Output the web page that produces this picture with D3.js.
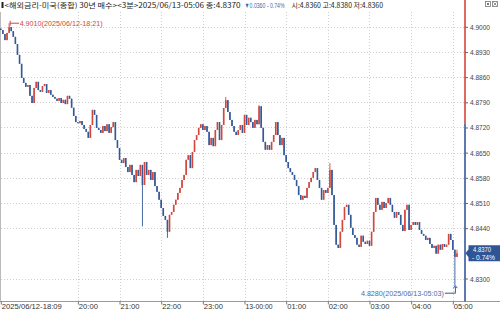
<!DOCTYPE html>
<html>
<head>
<meta charset="utf-8">
<script src="https://cdn.jsdelivr.net/npm/d3@7"></script>
<style>
  body { margin: 0; background: #fff; }
  svg { display: block; font-family: "Liberation Sans", "Noto Sans CJK KR", sans-serif; }
</style>
</head>
<body>
<div id="chart"></div>
<script>
// 3-minute candles, 2025/06/12 18:09 .. 2025/06/13 05:06 (close of each bar)
const closes = [
  4.8991, 4.8980, 4.8963, 4.8983, 4.8999, 4.8988, 4.8972, 4.8952, 4.8922, 4.8897,
  4.8858, 4.8844, 4.8833, 4.8838, 4.8808, 4.8788, 4.8830, 4.8847, 4.8824, 4.8819,
  4.8835, 4.8841, 4.8816, 4.8824, 4.8811, 4.8805, 4.8800, 4.8794, 4.8802, 4.8788,
  4.8797, 4.8785, 4.8808, 4.8800, 4.8775, 4.8752, 4.8735, 4.8732, 4.8738, 4.8727,
  4.8716, 4.8708, 4.8691, 4.8727, 4.8769, 4.8755, 4.8719, 4.8713, 4.8705, 4.8724,
  4.8710, 4.8729, 4.8705, 4.8721, 4.8735, 4.8685, 4.8663, 4.8630, 4.8621, 4.8635,
  4.8610, 4.8596, 4.8616, 4.8588, 4.8568, 4.8602, 4.8585, 4.8616, 4.8560, 4.8624,
  4.8588, 4.8602, 4.8574, 4.8596, 4.8557, 4.8541, 4.8519, 4.8496, 4.8474, 4.8463,
  4.8430, 4.8477, 4.8485, 4.8505, 4.8519, 4.8538, 4.8552, 4.8574, 4.8588, 4.8630,
  4.8643, 4.8607, 4.8652, 4.8685, 4.8699, 4.8719, 4.8729, 4.8713, 4.8724, 4.8708,
  4.8671, 4.8691, 4.8668, 4.8713, 4.8735, 4.8685, 4.8727, 4.8774, 4.8796, 4.8763,
  4.8741, 4.8724, 4.8708, 4.8699, 4.8713, 4.8727, 4.8705, 4.8755, 4.8727, 4.8747,
  4.8735, 4.8719, 4.8741, 4.8729, 4.8779, 4.8719, 4.8680, 4.8658, 4.8671, 4.8658,
  4.8680, 4.8699, 4.8735, 4.8699, 4.8671, 4.8691, 4.8643, 4.8624, 4.8607, 4.8596,
  4.8588, 4.8574, 4.8557, 4.8532, 4.8519, 4.8530, 4.8524, 4.8552, 4.8568, 4.8580,
  4.8596, 4.8607, 4.8574, 4.8552, 4.8519, 4.8546, 4.8538, 4.8552, 4.8602, 4.8532,
  4.8449, 4.8394, 4.8385, 4.8430, 4.8463, 4.8499, 4.8505, 4.8477, 4.8441, 4.8421,
  4.8413, 4.8394, 4.8388, 4.8419, 4.8402, 4.8396, 4.8405, 4.8391, 4.8430, 4.8485,
  4.8524, 4.8505, 4.8491, 4.8513, 4.8496, 4.8510, 4.8524, 4.8505, 4.8485, 4.8469,
  4.8485, 4.8477, 4.8449, 4.8432, 4.8491, 4.8505, 4.8435, 4.8449, 4.8457, 4.8449,
  4.8457, 4.8435, 4.8424, 4.8419, 4.8407, 4.8413, 4.8396, 4.8385, 4.8391, 4.8369,
  4.8394, 4.8380, 4.8396, 4.8388, 4.8394, 4.8424, 4.8407, 4.8380, 4.8360, 4.8370
];
const firstOpen = 4.8995;
// bars whose wick reaches past the body: [index, high, low]
const wicks = [
  [4, 4.9010, null], [68, null, 4.8445], [80, null, 4.8413], [108, 4.8805, null],
  [124, 4.8782, null], [158, 4.8621, null], [218, null, 4.8280], [219, 4.8380, 4.8360]
];

const xTickIdx = [0, 37, 57, 77, 97, 117, 137, 157, 177, 197, 217];
const xTickLabels = ["2025/06/12-18:09", "20:00", "21:00", "22:00", "23:00", "13-00:00",
  "01:00", "02:00", "03:00", "04:00", "05:00"];
const yTicks = [4.9000, 4.8930, 4.8860, 4.8790, 4.8720, 4.8650, 4.8580, 4.8510, 4.8440, 4.8300];

const prevClose = 4.8730;
const lastPrice = 4.8370;
const lastChange = "- 0.74%";
const maxMark = { i: 4, v: 4.9010, label: "4.9010(2025/06/12-18:21)" };
const minMark = { i: 218, v: 4.8280, label: "4.8280(2025/06/13-05:03)" };
const headParts = [
  "<해외금리-미국(종합) 30년 매수><3분>2025/06/13-05:06 종:4.8370",
  "▼0.0360 - 0.74%",
  "시:4.8360 고:4.8380 저:4.8360"
];

const W = 500, H = 314;
const axisX = 465, axisY = 301.5;
const upColor = "#d2463b", downColor = "#34599a";

const x = d3.scaleLinear().domain([0, 219]).range([0.8, 0.8 + 2.083 * 219]);
const y = d3.scaleLinear().domain([4.83, 4.90]).range([278.5, 26.8]);

const svg = d3.select("#chart").append("svg")
  .attr("width", W).attr("height", H);

// squeeze a text horizontally so it spans `len` pixels from `x0`
function fitText(g, x0, baseline, len, str, size, fill, family) {
  const wrap = g.append("g");
  const t = wrap.append("text").attr("x", 0).attr("y", baseline)
    .attr("font-size", size).attr("fill", fill).text(str);
  if (family) t.attr("font-family", family);
  const natural = t.node().getComputedTextLength();
  wrap.attr("transform", `translate(${x0},0) scale(${len / natural},1)`);
  return t;
}

// grid
svg.append("g").selectAll("line")
  .data(yTicks).join("line")
  .attr("x1", 1).attr("x2", axisX)
  .attr("y1", d => Math.round(y(d)) + 0.5).attr("y2", d => Math.round(y(d)) + 0.5)
  .attr("stroke", "#cfcfcf").attr("stroke-dasharray", "1,2");

svg.append("g").selectAll("line")
  .data(xTickIdx.slice(1)).join("line")
  .attr("x1", d => Math.round(x(d)) + 0.5).attr("x2", d => Math.round(x(d)) + 0.5)
  .attr("y1", 12).attr("y2", axisY)
  .attr("stroke", "#cfcfcf").attr("stroke-dasharray", "1,2");

// left border
svg.append("line").attr("x1", 0.5).attr("x2", 0.5).attr("y1", 12).attr("y2", axisY)
  .attr("stroke", "#bbb");

// candles
const bars = closes.map((c, i) => {
  const o = i === 0 ? firstOpen : closes[i - 1];
  let hi = Math.max(o, c), lo = Math.min(o, c);
  const w = wicks.find(d => d[0] === i);
  if (w) { if (w[1] != null) hi = w[1]; if (w[2] != null) lo = w[2]; }
  return { i, o, c, hi, lo };
});
const col = d => d.c > d.o ? upColor : d.c < d.o ? downColor : "#666";

const cg = svg.append("g");
cg.selectAll("line").data(bars).join("line")
  .attr("x1", d => x(d.i)).attr("x2", d => x(d.i))
  .attr("y1", d => y(d.hi)).attr("y2", d => y(d.lo))
  .attr("stroke", col).attr("stroke-width", 0.9);
cg.selectAll("rect").data(bars).join("rect")
  .attr("x", d => x(d.i) - 0.8).attr("width", 1.6)
  .attr("y", d => y(Math.max(d.o, d.c)))
  .attr("height", d => Math.max(1, Math.abs(y(d.o) - y(d.c))))
  .attr("fill", col);

// x axis
svg.append("line").attr("x1", 0).attr("x2", W).attr("y1", axisY).attr("y2", axisY)
  .attr("stroke", "#9a9a9a");
const xa = svg.append("g").attr("transform", `translate(0,${axisY})`)
  .call(d3.axisBottom(x).tickValues(xTickIdx).tickSize(3).tickFormat((d, k) => xTickLabels[k]));
xa.select(".domain").remove();
xa.selectAll(".tick line").attr("stroke", "#777");
xa.selectAll(".tick text")
  .attr("text-anchor", "start").attr("x", 0.5).attr("y", 2).attr("dy", "0.71em")
  .attr("fill", "#333").attr("font-size", 7.6)
  .attr("font-family", "Liberation Sans, sans-serif");
xa.selectAll(".tick text").filter((d, k) => k === 0)
  .attr("textLength", 60).attr("lengthAdjust", "spacingAndGlyphs");
xa.selectAll(".tick text").filter((d, k) => k === 5)
  .attr("textLength", 27).attr("lengthAdjust", "spacingAndGlyphs");

// y axis line: red above previous close, blue below
svg.append("line").attr("x1", axisX).attr("x2", axisX).attr("y1", 0).attr("y2", y(prevClose))
  .attr("stroke", upColor).attr("stroke-width", 1.6);
svg.append("line").attr("x1", axisX).attr("x2", axisX).attr("y1", y(prevClose)).attr("y2", axisY)
  .attr("stroke", downColor).attr("stroke-width", 1.6);

const ya = svg.append("g").attr("transform", `translate(${axisX},0)`)
  .call(d3.axisRight(y).tickValues(yTicks).tickSize(3).tickPadding(2).tickFormat(d3.format(".4f")));
ya.select(".domain").remove();
ya.selectAll(".tick line").attr("stroke", "#666");
ya.selectAll(".tick text").attr("fill", "#444").attr("font-size", 7.8)
  .attr("textLength", 20).attr("lengthAdjust", "spacingAndGlyphs");

// current price tag
const py = y(lastPrice);
svg.append("path")
  .attr("d", `M${axisX + 0.5},${py} L${axisX + 3.5},${py - 4} L${axisX + 3.5},${py - 8} L${W},${py - 8} L${W},${py + 8} L${axisX + 3.5},${py + 8} L${axisX + 3.5},${py + 4} Z`)
  .attr("fill", "#2f5596");
const tag = svg.append("g");
fitText(tag, 473, py - 1.2, 18, d3.format(".4f")(lastPrice), 7, "#fff");
fitText(tag, 472, py + 6.4, 23, lastChange, 7, "#fff");

// max / min marks
const mx = x(maxMark.i), my = y(maxMark.v);
svg.append("path").attr("d", `M${mx + 1},${my - 2.5} L${mx + 1},${my + 2.5} M${mx + 1},${my} L${mx + 10},${my}`)
  .attr("stroke", upColor).attr("fill", "none");
svg.append("text").attr("x", mx + 10.5).attr("y", my + 3).attr("fill", upColor)
  .attr("font-size", 8).attr("textLength", 83).attr("lengthAdjust", "spacingAndGlyphs")
  .text(maxMark.label);

const nx = x(minMark.i), ny = y(minMark.v);
svg.append("path").attr("d", `M${nx - 10},${ny + 7.5} L${nx + 0.5},${ny + 7.5} L${nx + 0.5},${ny + 1}`)
  .attr("stroke", downColor).attr("fill", "none");
svg.append("path").attr("d", `M${nx - 1.5},${ny + 2.5} L${nx + 0.5},${ny} L${nx + 2.5},${ny + 2.5}`)
  .attr("stroke", downColor).attr("fill", "none");
svg.append("text").attr("x", nx - 11).attr("y", ny + 10.5).attr("text-anchor", "end")
  .attr("fill", "#4a6ea8").attr("font-size", 8).attr("textLength", 83).attr("lengthAdjust", "spacingAndGlyphs")
  .text(minMark.label);

// header
svg.append("rect").attr("x", 1.5).attr("y", 2).attr("width", 2).attr("height", 6).attr("fill", "#222");
const hg = svg.append("g");
const headFam = "Noto Sans CJK KR, sans-serif";
fitText(hg, 4.5, 8.4, 236, headParts[0], 7.2, "#222", headFam);
fitText(hg, 244.5, 8.4, 40, headParts[1], 7.6, "#3f67ad", "Liberation Sans, DejaVu Sans, sans-serif");
fitText(hg, 291.5, 8.4, 91.5, headParts[2], 7.2, "#222", headFam);

// window buttons
const btn = svg.append("g").attr("fill", "none").attr("stroke", "#777").attr("stroke-width", 0.8);
btn.append("rect").attr("x", 485.5).attr("y", 1.5).attr("width", 5).attr("height", 5);
btn.append("rect").attr("x", 487).attr("y", 3).attr("width", 2).attr("height", 2).attr("fill", "#777").attr("stroke", "none");
btn.append("rect").attr("x", 492.5).attr("y", 1.5).attr("width", 5).attr("height", 5);
btn.append("path").attr("d", "M493.5,2.5 L496.5,5.5 M496.5,2.5 L493.5,5.5");
</script>
</body>
</html>
